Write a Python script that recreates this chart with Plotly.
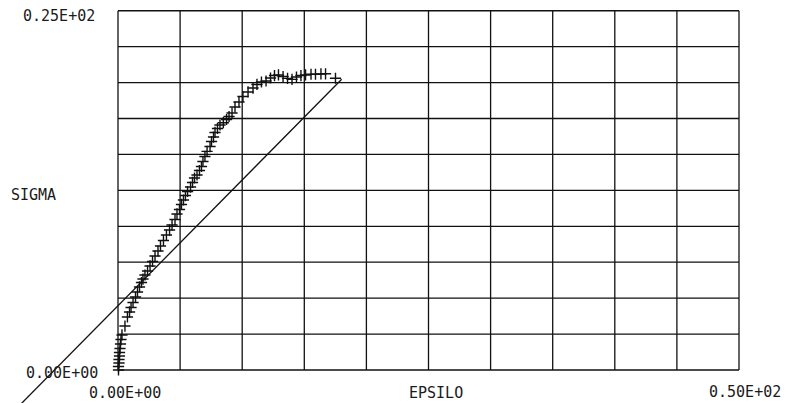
import plotly.graph_objects as go

# ---- data ----
epsilo = [0.04, 0.04, 0.08, 0.08, 0.12, 0.12, 0.16, 0.20, 0.24, 0.32,
          0.56, 0.76, 0.93, 1.05, 1.21, 1.41, 1.57, 1.73, 1.89, 2.01,
          2.17, 2.38, 2.58, 2.78, 2.98, 3.22, 3.42, 3.66, 3.90, 4.15,
          4.35, 4.59, 4.75, 4.95, 5.11, 5.27, 5.43, 5.60, 5.84, 6.00,
          6.16, 6.36, 6.56, 6.72, 6.84, 7.00, 7.17, 7.41, 7.53, 7.69,
          7.81, 8.01, 8.21, 8.48, 8.74, 8.94, 9.18, 9.42, 9.74, 10.06,
          10.47, 10.87, 11.19, 11.55, 11.92, 12.28, 12.60, 12.92, 13.29, 13.65,
          14.01, 14.37, 14.73, 15.10, 15.54, 15.90, 16.34, 16.71, 17.51]
sigma = [0.00, 0.24, 0.49, 0.73, 0.97, 1.22, 1.50, 1.81, 2.12, 2.44,
         3.06, 3.69, 4.04, 4.35, 4.70, 5.08, 5.43, 5.78, 6.09, 6.33,
         6.61, 6.89, 7.24, 7.55, 7.93, 8.28, 8.63, 9.01, 9.39, 9.74,
         10.09, 10.47, 10.86, 11.17, 11.52, 11.83, 12.14, 12.42, 12.73, 13.05,
         13.36, 13.57, 13.88, 14.16, 14.51, 14.86, 15.21, 15.55, 15.90, 16.21,
         16.53, 16.81, 17.05, 17.21, 17.43, 17.64, 17.88, 18.30, 18.65, 19.03,
         19.35, 19.62, 19.87, 20.04, 20.11, 20.32, 20.49, 20.53, 20.42, 20.29,
         20.22, 20.39, 20.49, 20.53, 20.58, 20.58, 20.60, 20.61, 20.30]

fit_x = [-8.45, 18.01]
fit_y = [-2.92, 20.23]

x_ticks = [0, 5, 10, 15, 20, 25, 30, 35, 40, 45, 50]
y_ticks = [0, 2.5, 5, 7.5, 10, 12.5, 15, 17.5, 20, 22.5, 25]
x_tick_labels = ["0.00E+00", "0.50E+02"]
y_tick_labels = ["0.00E+00", "0.25E+02"]
x_title = "EPSILO"
y_title = "SIGMA"

# ---- grid built from the tick arrays ----
gx, gy = [], []
for xv in x_ticks:
    gx += [xv, xv, None]
    gy += [y_ticks[0], y_ticks[-1], None]
for yv in y_ticks:
    gx += [x_ticks[0], x_ticks[-1], None]
    gy += [yv, yv, None]

INK = "#111111"
fig = go.Figure()
fig.add_trace(go.Scatter(x=gx, y=gy, mode="lines",
                         line=dict(color=INK, width=1.3), hoverinfo="skip"))
fig.add_trace(go.Scatter(x=fit_x, y=fit_y, mode="lines",
                         line=dict(color=INK, width=1.3), hoverinfo="skip"))
fig.add_trace(go.Scatter(x=epsilo, y=sigma, mode="markers",
                         marker=dict(symbol="cross-thin", size=8, color=INK,
                                     line=dict(color=INK, width=1.4))))

FONT = dict(family="DejaVu Sans Mono", size=15, color="#1a1a1a")
ann = [
    dict(x=-4.75, y=24.60, text=y_tick_labels[1]),
    dict(x=-4.51, y=-0.21, text=y_tick_labels[0]),
    dict(x=0.56, y=-1.62, text=x_tick_labels[0]),
    dict(x=50.48, y=-1.55, text=x_tick_labels[1]),
    dict(x=25.6, y=-1.62, text=x_title),
    dict(x=-6.84, y=12.18, text=y_title),
]
for a in ann:
    a.update(xref="x", yref="y", showarrow=False, font=FONT, borderpad=0,
             xanchor="center", yanchor="middle")

# the page body adds an 8px offset, so the axis ranges are shifted to match
fig.update_layout(
    width=790, height=403,
    margin=dict(l=0, r=0, t=0, b=0),
    paper_bgcolor="white", plot_bgcolor="white",
    showlegend=False,
    xaxis=dict(range=[-8.857, 54.75], visible=False, fixedrange=True),
    yaxis=dict(range=[-2.853, 25.19], visible=False, fixedrange=True),
    annotations=ann,
)

fig.write_html("out.html")
